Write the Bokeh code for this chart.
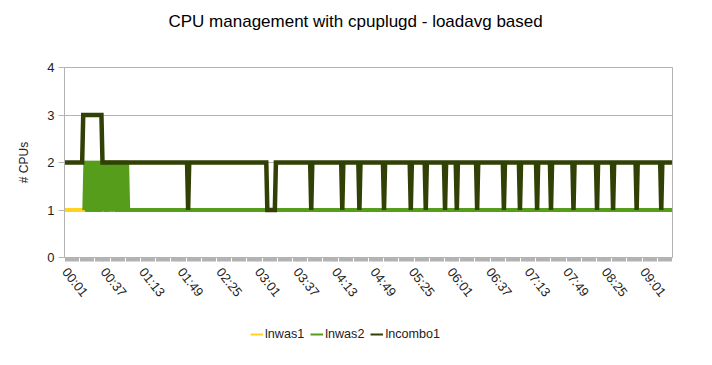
from bokeh.plotting import figure
from bokeh.models import FixedTicker, Range1d, Legend, LegendItem, Title
from bokeh.layouts import column
from bokeh.embed import file_html
from bokeh.resources import INLINE

# ---- data (minutes since 00:00, one sample per minute; only change points listed) ----
first_minute = 1
last_minute = 568

tick_labels = ["00:01", "00:37", "01:13", "01:49", "02:25", "03:01", "03:37", "04:13",
               "04:49", "05:25", "06:01", "06:37", "07:13", "07:49", "08:25", "09:01"]

lnwas1_t = [1, 568]
lnwas1_v = [1, 1]

lnwas2_t = [19, 20, 21, 22, 23, 24, 25, 26, 27, 28, 29, 30, 31, 32, 33, 34, 35, 36, 37, 38,
            39, 40, 41, 42, 43, 44, 45, 46, 47, 48, 49, 50, 51, 52, 53, 54, 55, 56, 57, 58,
            59, 60, 568]
lnwas2_v = [1, 2, 1, 2, 1, 2, 1, 2, 1, 2, 1, 2, 1, 2, 1, 2, 1, 2, 2, 1,
            2, 1, 2, 1, 2, 2, 1, 2, 2, 1, 2, 1, 2, 1, 2, 1, 2, 1, 2, 1,
            2, 1, 1]

lncombo1_t = [1, 17, 18, 35, 36,
              115, 116, 117,
              189, 190, 197, 198,
              230, 231, 232,
              259, 260, 261,
              275, 276, 277,
              298, 299, 300,
              323, 324, 325,
              337, 338, 339,
              355, 356, 357,
              366, 367, 368,
              385, 386, 387,
              410, 411, 412,
              425, 426, 427,
              441, 442, 443,
              454, 455, 456,
              475, 476, 477,
              497, 498, 499,
              512, 513, 514,
              534, 535, 536,
              557, 558, 559,
              568]
lncombo1_v = [2, 2, 3, 3, 2,
              2, 1, 2,
              2, 1, 1, 2,
              2, 1, 2,
              2, 1, 2,
              2, 1, 2,
              2, 1, 2,
              2, 1, 2,
              2, 1, 2,
              2, 1, 2,
              2, 1, 2,
              2, 1, 2,
              2, 1, 2,
              2, 1, 2,
              2, 1, 2,
              2, 1, 2,
              2, 1, 2,
              2, 1, 2,
              2, 1, 2,
              2, 1, 2,
              2, 1, 2,
              2]

series_names = ["lnwas1", "lnwas2", "lncombo1"]
series_colors = ["#ffd320", "#579d1c", "#314004"]
series_t = [lnwas1_t, lnwas2_t, lncombo1_t]
series_v = [lnwas1_v, lnwas2_v, lncombo1_v]

FONT = "Liberation Sans"
GRID = "#b3b3b3"

# ---------------- main chart ----------------
p = figure(width=712, height=310, output_backend="svg", toolbar_location=None,
           x_range=Range1d(first_minute - 0.5, last_minute + 0.5), y_range=Range1d(0, 4),
           min_border_left=64, min_border_right=40, min_border_top=67, min_border_bottom=53)
p.background_fill_color = "white"
p.border_fill_color = "white"
p.outline_line_color = GRID

p.title.text = "CPU management with cpuplugd - loadavg based"
p.title.align = "left"
p.title.vertical_align = "bottom"
p.title.offset = 104
p.title.standoff = 0
p.title.text_font = FONT
p.title.text_font_size = "17px"
p.title.text_font_style = "normal"
p.title.text_color = "#000000"

spacer = Title(text=" ", text_font_size="10px", standoff=24)
p.add_layout(spacer, "above")

p.line(lnwas1_t, lnwas1_v, line_color=series_colors[0], line_width=4)
p.line(lnwas2_t, lnwas2_v, line_color=series_colors[1], line_width=4, line_join="round")
p.line(lncombo1_t, lncombo1_v, line_color=series_colors[2], line_width=4.5, line_join="miter")

tick_minutes = [int(s[:2]) * 60 + int(s[3:]) for s in tick_labels]
p.xaxis.ticker = FixedTicker(ticks=tick_minutes,
                             minor_ticks=list(range(first_minute, last_minute + 1)))
p.xaxis.major_label_overrides = {m: s for m, s in zip(tick_minutes, tick_labels)}
p.xaxis.major_label_orientation = -0.9
p.xaxis.major_label_standoff = 8
p.xaxis.major_tick_out = 4
p.xaxis.major_tick_in = 0
p.xaxis.minor_tick_out = 4
p.xaxis.minor_tick_in = 0

p.yaxis.ticker = FixedTicker(ticks=[0, 1, 2, 3, 4])
p.yaxis.axis_label = "# CPUs"
p.yaxis.major_tick_out = 6
p.yaxis.major_tick_in = 0
p.yaxis.major_label_standoff = 4
p.yaxis.axis_label_standoff = 13

for ax in (p.xaxis, p.yaxis):
    ax.axis_line_color = GRID
    ax.major_tick_line_color = GRID
    ax.minor_tick_line_color = GRID
    ax.major_label_text_font = FONT
    ax.major_label_text_font_size = "13px"
    ax.major_label_text_color = "#222222"
    ax.axis_label_text_font = FONT
    ax.axis_label_text_font_size = "12px"
    ax.axis_label_text_font_style = "normal"
    ax.axis_label_text_color = "#222222"
p.yaxis.minor_tick_line_color = None

p.xgrid.grid_line_color = None
p.ygrid.grid_line_color = GRID

# ---------------- legend strip (series drawn out of view; only the legend shows) ----------------
q = figure(width=712, height=55, output_backend="svg", toolbar_location=None,
           x_axis_type=None, y_axis_type=None,
           x_range=Range1d(first_minute - 0.5, last_minute + 0.5), y_range=Range1d(100, 101),
           min_border_left=0, min_border_right=0, min_border_top=0, min_border_bottom=0)
q.outline_line_color = None
q.background_fill_color = "white"
q.border_fill_color = "white"
q.xgrid.visible = False
q.ygrid.visible = False
lr = [q.line(t_, v_, line_color=c, line_width=2) for t_, v_, c in zip(series_t, series_v, series_colors)]

legend = Legend(items=[LegendItem(label=n, renderers=[r]) for n, r in zip(series_names, lr)],
                location=(186, 24), orientation="horizontal",
                glyph_width=13, glyph_height=12, label_standoff=2, spacing=6,
                padding=0, margin=0, border_line_color=None, background_fill_alpha=0,
                label_text_font=FONT, label_text_font_size="12.6px", label_text_color="#222222")
q.add_layout(legend, "center")

layout = column(p, q, spacing=0)
open("out.html", "w").write(file_html(layout, INLINE))
